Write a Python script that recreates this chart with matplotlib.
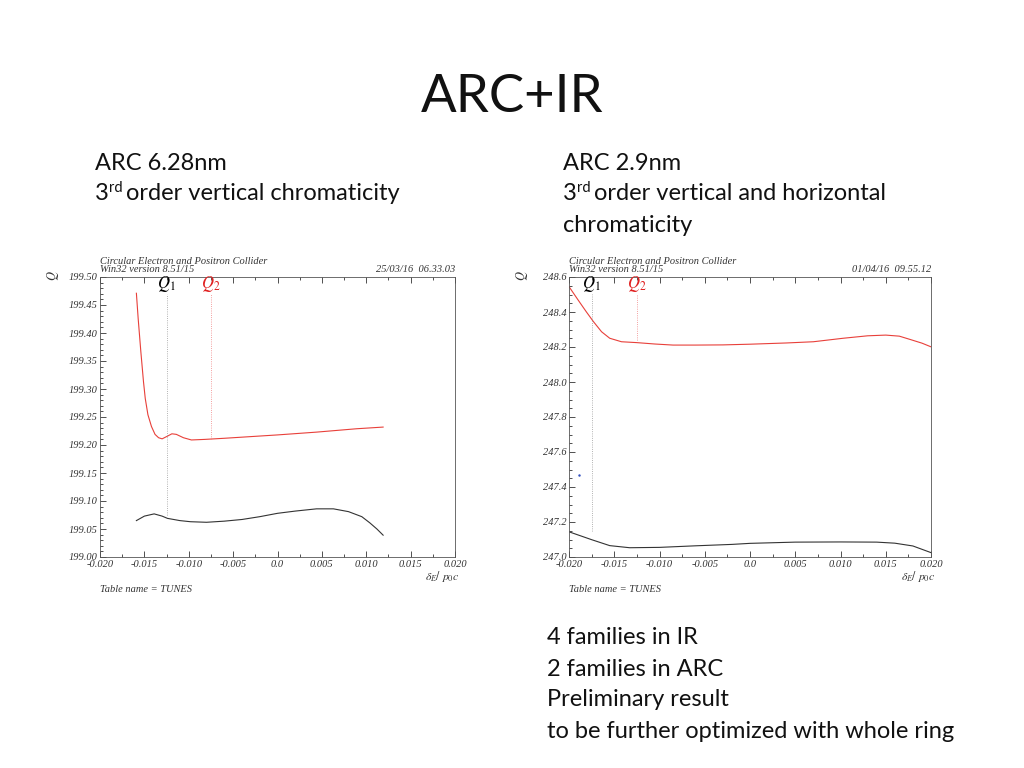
import matplotlib.pyplot as plt
from matplotlib.ticker import MultipleLocator, FuncFormatter

plt.rcParams['mathtext.fontset'] = 'stix'

# left plot: ARC 6.28nm
esq_x_red = [-0.0159, -0.0157, -0.0154, -0.0151, -0.0149, -0.0146, -0.0142, -0.0138,
             -0.0134, -0.0130, -0.0125, -0.0119, -0.0114, -0.0106, -0.0097, -0.0082,
             -0.0060, -0.0030, 0.0000, 0.0044, 0.0089, 0.0119]
esq_y_red = [199.471, 199.426, 199.367, 199.313, 199.283, 199.254, 199.233, 199.219,
             199.213, 199.211, 199.215, 199.220, 199.219, 199.213, 199.209, 199.210,
             199.212, 199.215, 199.218, 199.223, 199.229, 199.232]
esq_x_blk = [-0.0159, -0.0150, -0.0139, -0.0130, -0.0124, -0.0110, -0.0098, -0.0080,
             -0.0060, -0.0040, -0.0020, 0.0000, 0.0020, 0.0044, 0.0063, 0.0080,
             0.0095, 0.0104, 0.0112, 0.0119]
esq_y_blk = [199.065, 199.073, 199.077, 199.073, 199.069, 199.065, 199.063, 199.062,
             199.064, 199.067, 199.072, 199.078, 199.082, 199.086, 199.086, 199.081,
             199.072, 199.061, 199.050, 199.039]

# right plot: ARC 2.9nm
dir_x_red = [-0.0200, -0.0190, -0.0181, -0.0173, -0.0164, -0.0155, -0.0142, -0.0125,
             -0.0105, -0.0085, -0.0060, -0.0030, 0.0000, 0.0040, 0.0070, 0.0103,
             0.0130, 0.0150, 0.0165, 0.0177, 0.0190, 0.0200]
dir_y_red = [248.545, 248.469, 248.402, 248.345, 248.287, 248.250, 248.230, 248.225,
             248.217, 248.211, 248.211, 248.212, 248.216, 248.223, 248.230, 248.250,
             248.264, 248.268, 248.262, 248.243, 248.222, 248.201]
dir_x_blk = [-0.0200, -0.0175, -0.0155, -0.0133, -0.0100, -0.0060, -0.0020, 0.0000,
             0.0050, 0.0100, 0.0140, 0.0160, 0.0180, 0.0200]
dir_y_blk = [247.144, 247.099, 247.065, 247.053, 247.055, 247.064, 247.072, 247.078,
             247.085, 247.086, 247.085, 247.079, 247.063, 247.025]

# marcadores Q1 / Q2: (x, y_baixo, y_cima)
esq_q1 = (-0.0125, 199.075, 199.470)
esq_q2 = (-0.0075, 199.211, 199.470)
dir_q1 = (-0.0175, 247.150, 248.505)
dir_q2 = (-0.0125, 248.240, 248.505)

W, H = 1024, 768
fig = plt.figure(figsize=(10.24, 7.68), dpi=100)

def px(x, y):
    return x / W, 1 - y / H

serif = 'Liberation Serif'
sans = 'Lato'

def fmt_x(v, pos):
    if abs(v) < 1e-9:
        return '0.0'
    return '%.3f' % v

def painel(rect, xr, yr, xb, yb, q1, q2, ylim, ymaj, ymin, yfmt, data, xlab_px):
    ax = fig.add_axes(rect)
    ax.plot(xr, yr, color='#e8403a', lw=0.8)
    ax.plot(xb, yb, color='#333333', lw=0.8)
    ax.plot([q1[0], q1[0]], [q1[1], q1[2]], color='#999999', lw=0.6, ls=':')
    ax.plot([q2[0], q2[0]], [q2[1], q2[2]], color='#f08080', lw=0.6, ls=':')
    ax.text(q1[0], q1[2], r'$Q_1$', color='black', fontsize=12, ha='center', va='bottom')
    ax.text(q2[0], q2[2], r'$Q_2$', color='#e02020', fontsize=12, ha='center', va='bottom')
    ax.set_xlim(-0.020, 0.020)
    ax.set_ylim(*ylim)
    ax.xaxis.set_major_locator(MultipleLocator(0.005))
    ax.xaxis.set_minor_locator(MultipleLocator(0.0025))
    ax.yaxis.set_major_locator(MultipleLocator(ymaj))
    ax.yaxis.set_minor_locator(MultipleLocator(ymin))
    ax.xaxis.set_major_formatter(FuncFormatter(fmt_x))
    ax.yaxis.set_major_formatter(FuncFormatter(lambda v, p: yfmt % v))
    ax.tick_params(which='both', direction='in', top=True, right=False, pad=2,
                   labelsize=7.5, colors='#333333', width=0.6)
    ax.tick_params(which='major', length=4)
    ax.tick_params(which='minor', length=2)
    for lab in ax.get_xticklabels() + ax.get_yticklabels():
        lab.set_family(serif)
        lab.set_style('italic')
    for s in ax.spines.values():
        s.set_linewidth(0.6)
        s.set_color('#555555')
    x0 = rect[0] * W
    x1 = (rect[0] + rect[2]) * W
    fig.text(*px(x0, 262), 'Circular Electron and Positron Collider', family=serif,
             style='italic', fontsize=7.5, va='center', color='#333333')
    fig.text(*px(x0, 270), 'Win32 version 8.51/15', family=serif,
             style='italic', fontsize=7.5, va='center', color='#333333')
    fig.text(*px(x1, 270), data, family=serif, style='italic', fontsize=7.5,
             va='center', ha='right', color='#333333')
    fig.text(*px(x0, 590), 'Table name = TUNES', family=serif, style='italic',
             fontsize=7.5, va='center', color='#333333')
    fig.text(*px(xlab_px, 577), r'$\delta_E/\ p_0c$', fontsize=8.5, va='center',
             ha='center', color='#333333')
    fig.text(*px(x0 - 47, 276), r'$Q$', fontsize=9, rotation=90, va='center',
             ha='center', color='#333333')
    return ax

ax1 = painel([100 / W, 1 - 557 / H, 355 / W, 280 / H], esq_x_red, esq_y_red,
             esq_x_blk, esq_y_blk, esq_q1, esq_q2, (199.0, 199.5), 0.05, 0.01,
             '%.2f', '25/03/16  06.33.03', 442)
ax2 = painel([569 / W, 1 - 557 / H, 362 / W, 280 / H], dir_x_red, dir_y_red,
             dir_x_blk, dir_y_blk, dir_q1, dir_q2, (247.0, 248.6), 0.2, 0.05,
             '%.1f', '01/04/16  09.55.12', 918)
ax2.plot([-0.0189], [247.47], marker='.', ms=1.5, color='#3050c0')

# texto do slide
fig.text(*px(512, 98), 'ARC+IR', family=sans, fontsize=38, ha='center', va='center',
         color='#111111')

renderer = fig.canvas.get_renderer()
FS = 17

def linha_sup(x, y, antes, sup, depois, fs=FS):
    t = fig.text(*px(x, y), antes, family=sans, fontsize=fs, va='center', color='#111111')
    bb = t.get_window_extent(renderer)
    t2 = fig.text(bb.x1 / W, 1 - (y - 6) / H, sup, family=sans, fontsize=fs * 0.62,
                  va='center', color='#111111')
    bb2 = t2.get_window_extent(renderer)
    fig.text(bb2.x1 / W + 3 / W, 1 - y / H, depois, family=sans, fontsize=fs,
             va='center', color='#111111')

fig.text(*px(95, 163), 'ARC 6.28nm', family=sans, fontsize=FS, va='center', color='#111111')
linha_sup(95, 194, '3', 'rd', 'order vertical chromaticity')
fig.text(*px(563, 163), 'ARC 2.9nm', family=sans, fontsize=FS, va='center', color='#111111')
linha_sup(563, 194, '3', 'rd', 'order vertical and horizontal')
fig.text(*px(563, 225), 'chromaticity', family=sans, fontsize=FS, va='center', color='#111111')

notas = ['4 families in IR', '2 families in ARC', 'Preliminary result',
         'to be further optimized with whole ring']
for i, n in enumerate(notas):
    fig.text(*px(547, 638 + 31 * i), n, family=sans, fontsize=FS, va='center',
             color='#111111')

fig.savefig('out.png', dpi=100)
